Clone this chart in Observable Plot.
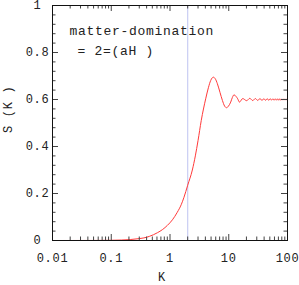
<!DOCTYPE html>
<html>
<head>
<meta charset="utf-8">
<script src="https://cdn.jsdelivr.net/npm/d3@7"></script>
<script src="https://cdn.jsdelivr.net/npm/@observablehq/plot@0.6"></script>
<style>
  html, body { margin: 0; padding: 0; background: #fff; }
  svg, svg text { font-family: "Liberation Mono", "Courier New", monospace !important; }
  svg text { letter-spacing: 0.7px; }
</style>
</head>
<body>
<div id="chart"></div>
<script>
// wavenumber k and S(k)
const kVals = [0.01, 0.05, 0.1, 0.15, 0.21, 0.3, 0.36, 0.45, 0.61, 0.75, 0.9, 1.1, 1.33, 1.55, 1.73, 2.0, 2.4, 2.7, 3.0, 3.4, 4.05, 4.5, 4.93, 5.48, 5.9, 6.41, 7.1, 7.8, 8.5, 9.2, 9.9, 10.8, 11.5, 12.3, 13.2, 14.2, 15.2, 17.3, 20.2, 22.8, 25.6, 28.4, 31.2, 34, 36.8, 39.6, 42.4, 45.2, 48, 50.8, 53.6, 56.4, 59.2, 62, 64.8, 67.6, 70.4, 73.2, 76, 78.8, 81.6, 84.4, 87.2, 90, 92.8, 95.6, 98.4, 100];
const sVals = [0, 0.0002, 0.001, 0.002, 0.004, 0.008, 0.011, 0.018, 0.033, 0.047, 0.064, 0.088, 0.12, 0.152, 0.184, 0.235, 0.30, 0.36, 0.425, 0.51, 0.603, 0.65, 0.681, 0.695, 0.688, 0.667, 0.63, 0.596, 0.572, 0.565, 0.572, 0.589, 0.608, 0.62, 0.614, 0.603, 0.589, 0.604, 0.595, 0.605, 0.5955, 0.604, 0.596, 0.604, 0.596, 0.6035, 0.5965, 0.6035, 0.5965, 0.6035, 0.597, 0.603, 0.597, 0.603, 0.597, 0.603, 0.597, 0.603, 0.597, 0.6025, 0.5975, 0.6025, 0.5975, 0.6025, 0.5975, 0.6025, 0.5975, 0.600];
const markerK = [2];
const xMajor = [0.01, 0.1, 1, 10, 100];
const xMajorLabels = ["0.01", "0.1", "1", "10", "100"];
const xMinor = [0.02,0.03,0.04,0.05,0.06,0.07,0.08,0.09,0.2,0.3,0.4,0.5,0.6,0.7,0.8,0.9,2,3,4,5,6,7,8,9,20,30,40,50,60,70,80,90];
const yMajor = [0, 0.2, 0.4, 0.6, 0.8, 1];
const yMajorLabels = ["0", "0.2", "0.4", "0.6", "0.8", "1"];
const yMinor = [0.04,0.08,0.12,0.16,0.24,0.28,0.32,0.36,0.44,0.48,0.52,0.56,0.64,0.68,0.72,0.76,0.84,0.88,0.92,0.96];
const titleLines = ["matter-domination", "= 2=(aH )"];
const xLabel = "K";
const yLabel = "S (K )";

const data = kVals.map((k, i) => ({k, s: sVals[i]}));
const W = 299, H = 285, mL = 52, mR = 12, mT = 5, mB = 45;
const iw = W - mL - mR, ih = H - mT - mB;
const tickCol = "#444";
const font = "'Liberation Mono', 'Courier New', monospace";

const svg = Plot.plot({
  width: W, height: H,
  marginLeft: mL, marginRight: mR, marginTop: mT, marginBottom: mB,
  style: {fontFamily: font, fontSize: "12px", color: "#222", background: "#fff"},
  x: {type: "log", domain: [0.01, 100], axis: null},
  y: {domain: [0, 1], axis: null},
  marks: [
    Plot.ruleX(markerK, {x: d => d, stroke: "#c9cdf4", strokeWidth: 1.2}),
    Plot.line(data, {x: "k", y: "s", stroke: "#ff3a3a", strokeWidth: 1, curve: "monotone-x"}),
    // inward ticks: left & right
    Plot.tickY(yMajor, {y: d => d, insetRight: iw - 6, stroke: tickCol}),
    Plot.tickY(yMinor, {y: d => d, insetRight: iw - 3.5, stroke: tickCol}),
    Plot.tickY(yMajor, {y: d => d, insetLeft: iw - 6, stroke: tickCol}),
    Plot.tickY(yMinor, {y: d => d, insetLeft: iw - 3.5, stroke: tickCol}),
    // inward ticks: bottom & top
    Plot.tickX(xMajor, {x: d => d, insetTop: ih - 6, stroke: tickCol}),
    Plot.tickX(xMinor, {x: d => d, insetTop: ih - 3.5, stroke: tickCol}),
    Plot.tickX(xMajor, {x: d => d, insetBottom: ih - 6, stroke: tickCol}),
    Plot.tickX(xMinor, {x: d => d, insetBottom: ih - 3.5, stroke: tickCol}),
    Plot.frame({stroke: "#111", strokeWidth: 1}),
    // tick labels
    Plot.text(xMajor, {x: d => d, text: (d, i) => xMajorLabels[i], frameAnchor: "bottom", lineAnchor: "bottom", dy: 21, fontSize: 12, fill: "#222"}),
    Plot.text(yMajor, {y: d => d, text: (d, i) => yMajorLabels[i], frameAnchor: "left", textAnchor: "middle", lineAnchor: "middle", dx: -15, fontSize: 12, fill: "#222"}),
    // title lines
    Plot.text([titleLines[0]], {text: d => d, frameAnchor: "top-left", textAnchor: "start", lineAnchor: "bottom", dx: 17, dy: 29, fontSize: 13, fill: "#222"}),
    Plot.text([titleLines[1]], {text: d => d, frameAnchor: "top-left", textAnchor: "start", lineAnchor: "bottom", dx: 25, dy: 49, fontSize: 13, fill: "#222"}),
    // axis labels
    Plot.text([xLabel], {text: d => d, frameAnchor: "bottom", lineAnchor: "bottom", dx: -8, dy: 40, fontSize: 12, fill: "#222"}),
    Plot.text([yLabel], {text: d => d, frameAnchor: "left", rotate: -90, lineAnchor: "middle", dx: -44, dy: 10, fontSize: 12, fill: "#222"})
  ]
});
document.getElementById("chart").appendChild(svg);
</script>
</body>
</html>
